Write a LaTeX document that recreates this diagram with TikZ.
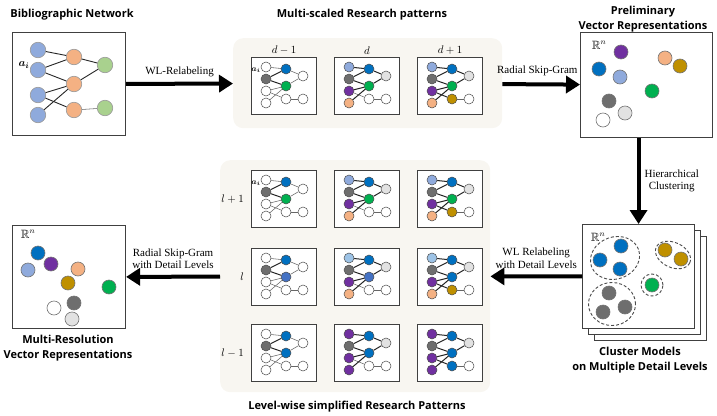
\documentclass[tikz,border=0pt]{standalone}
\usepackage{amssymb}
\usepackage{amsmath}
\usepackage{fontspec}
\usepackage{tikz}
\usetikzlibrary{arrows.meta, positioning, shapes.geometric}
\newfontfamily\headfont{Open Sans}
\newfontfamily\labfont{Liberation Serif}
\definecolor{panelbg}{HTML}{F8F6F1}
\definecolor{nblue}{HTML}{8FAADC}
\definecolor{norange}{HTML}{F4B183}
\definecolor{ngreen}{HTML}{A9D18E}
\definecolor{cblue}{HTML}{0070C0}
\definecolor{cmblue}{HTML}{4472C4}
\definecolor{cpblue}{HTML}{9DC3E6}
\definecolor{clblue}{HTML}{8FAADC}
\definecolor{cgreen}{HTML}{00B050}
\definecolor{cgray}{HTML}{6E6E6E}
\definecolor{clgray}{HTML}{E2E2E2}
\definecolor{cpurple}{HTML}{7030A0}
\definecolor{cgold}{HTML}{BF9000}
\definecolor{corange}{HTML}{F4B183}
\def\patwhite{white}
\newcommand{\patedge}[4]{%
  \def\patca{#3}\def\patcb{#4}%
  \ifx\patca\patwhite \draw[thinedge] (#1) -- (#2);%
  \else\ifx\patcb\patwhite \draw[thinedge] (#1) -- (#2);%
  \else \draw[thickedge] (#1) -- (#2);\fi\fi}
\tikzset{
  title/.style={font=\headfont\bfseries\fontsize{11}{15}\selectfont, align=center},
  lab/.style={font=\labfont\fontsize{11}{12.5}\selectfont, align=center, inner sep=1pt},
  mlab/.style={font=\fontsize{11}{13}\selectfont, inner sep=1pt},
  rlab/.style={font=\fontsize{12}{14}\selectfont, inner sep=1pt},
  ailab/.style={font=\fontsize{8.5}{9}\selectfont, inner sep=0pt},
  bigarrow/.style={line width=4pt, -{Triangle[length=14pt,width=17pt]}},
  boxline/.style={draw=black!75, line width=1.1pt, fill=white, inner sep=0pt},
  panel/.style={fill=panelbg, rounded corners=10pt, inner sep=0pt},
  bdot/.style={circle, minimum size=15.5pt, inner sep=0pt, draw=black!40, line width=0.6pt},
  vdot/.style={circle, minimum size=14pt, inner sep=0pt, draw=black!55, line width=0.6pt},
  sdot/.style={circle, minimum size=10pt, inner sep=0pt, draw=black!70, line width=0.5pt},
  bedge/.style={draw=black!85, line width=0.9pt},
  thinedge/.style={draw=black!60, line width=0.55pt},
  thickedge/.style={draw=black!85, line width=1pt},
  clus/.style={draw=black!70, line width=0.9pt, dash pattern=on 3pt off 2pt, inner sep=0pt},
  pics/rpat/.style n args={9}{code={
    \node[boxline, minimum width=65pt, minimum height=57pt, anchor=north west] (-box) at (0,0) {};
    \node[sdot, fill=#1] (-1) at (15,10) {};
    \node[sdot, fill=#2] (-2) at (15,22) {};
    \node[sdot, fill=#3] (-3) at (15,34) {};
    \node[sdot, fill=#4] (-4) at (15,46) {};
    \node[sdot, fill=#5] (-5) at (35,12) {};
    \node[sdot, fill=#6] (-6) at (35,29) {};
    \node[sdot, fill=#7] (-7) at (35,42) {};
    \node[sdot, fill=#8] (-8) at (52,19) {};
    \node[sdot, fill=#9] (-9) at (52,42) {};
    \patedge{-1}{-5}{#1}{#5}
    \patedge{-2}{-5}{#2}{#5}
    \patedge{-2}{-6}{#2}{#6}
    \patedge{-3}{-6}{#3}{#6}
    \patedge{-3}{-7}{#3}{#7}
    \patedge{-4}{-6}{#4}{#6}
    \patedge{-5}{-8}{#5}{#8}
    \patedge{-6}{-8}{#6}{#8}
    \patedge{-7}{-9}{#7}{#9}
  }}
}

\begin{document}
\begin{tikzpicture}[x=1pt, y=-1pt]
\useasboundingbox (0,0) rectangle (717,415);

% panels behind the patterns
\node[panel, minimum width=269pt, minimum height=90pt, anchor=north west] (ptop) at (233,38) {};
\node[panel, minimum width=270pt, minimum height=232pt, anchor=north west] (pbot) at (220,160) {};

% titles
\node[title] (tbib) at (72,15) {Bibliographic Network};
\node[title] (tms) at (362,15) {Multi-scaled Research patterns};
\node[title] (tpre) at (643,19) {Preliminary\\Vector Representations};
\node[title] (tclu) at (640,360) {Cluster Models\\on Multiple Detail Levels};
\node[title] (tmr) at (68,348) {Multi-Resolution\\Vector Representations};
\node[title] (tlw) at (357,407) {Level-wise simplified Research Patterns};

% bibliographic network
\node[boxline, minimum width=113pt, minimum height=103pt, anchor=north west] (bib) at (12,32) {};
\node[bdot, fill=nblue] (b1) at (38,50) {};
\node[bdot, fill=nblue] (b2) at (38,70) {};
\node[bdot, fill=nblue] (b3) at (38,95) {};
\node[bdot, fill=nblue] (b4) at (38,115) {};
\node[bdot, fill=norange] (o1) at (74,57) {};
\node[bdot, fill=norange] (o2) at (74,84) {};
\node[bdot, fill=norange] (o3) at (74,110) {};
\node[bdot, fill=ngreen] (g1) at (105,65) {};
\node[bdot, fill=ngreen] (g2) at (105,108) {};
\node[mlab] (ai) at (24,65) {$\boldsymbol{a_i}$};
\draw[bedge] (b1) -- (o1);
\draw[bedge] (b2) -- (o1);
\draw[bedge] (b2) -- (o2);
\draw[bedge] (b3) -- (o2);
\draw[bedge] (b3) -- (o3);
\draw[bedge] (b4) -- (o2);
\draw[bedge] (o1) -- (g1);
\draw[bedge] (o2) -- (g1);
\draw[thinedge] (o3) -- (g2);

% multi-scaled patterns
\pic (pd1) at (251,57) {rpat={white}{cgray}{white}{white}{cblue}{cgreen}{white}{white}{white}};
\pic (pd2) at (334,57) {rpat={clblue}{cgray}{cpurple}{corange}{cblue}{cgreen}{white}{clgray}{white}};
\pic (pd3) at (417,57) {rpat={clblue}{cgray}{cpurple}{corange}{cblue}{cgreen}{cgold}{clgray}{white}};
\node[ailab] (aid) at (256,70) {$\boldsymbol{a_i}$};
\node[mlab, above=1pt of pd1-box] (ld1) {$d-1$};
\node[mlab, above=1pt of pd2-box] (ld2) {$d$};
\node[mlab, above=1pt of pd3-box] (ld3) {$d+1$};

% preliminary vectors
\node[boxline, minimum width=132pt, minimum height=105pt, anchor=north west] (prelim) at (580,32) {};
\node[rlab] (rn1) at (599,45) {$\mathbb{R}^n$};
\node[vdot, fill=cpurple] (v1) at (621,52) {};
\node[vdot, fill=cblue] (v2) at (599,69) {};
\node[vdot, fill=clblue] (v3) at (620,77) {};
\node[vdot, fill=corange] (v4) at (665,58) {};
\node[vdot, fill=cgold] (v5) at (680,66) {};
\node[vdot, fill=cgreen] (v6) at (652,91) {};
\node[vdot, fill=cgray] (v7) at (609,101) {};
\node[vdot, fill=clgray] (v8) at (625,113) {};
\node[vdot, fill=white] (v9) at (603,120) {};

% cluster models
\node[boxline, minimum width=112pt, minimum height=104pt, anchor=north west] (clC) at (594,236) {};
\node[boxline, minimum width=112pt, minimum height=104pt, anchor=north west] (clB) at (588,230) {};
\node[boxline, minimum width=112pt, minimum height=104pt, anchor=north west] (clA) at (582,224) {};
\node[rlab] (rn2) at (598,237) {$\mathbb{R}^n$};
\node[clus, ellipse, minimum width=50pt, minimum height=42pt, rotate=20] (k1) at (615,258) {};
\node[clus, ellipse, minimum width=37pt, minimum height=25pt, rotate=-25] (k2) at (673,255) {};
\node[clus, circle, minimum size=22pt] (k3) at (652,285) {};
\node[clus, ellipse, minimum width=47pt, minimum height=43pt] (k4) at (612,304) {};
\node[vdot, fill=cblue] (c1) at (621,246) {};
\node[vdot, fill=cblue] (c2) at (600,260) {};
\node[vdot, fill=cblue] (c3) at (620,269) {};
\node[vdot, fill=cgold] (c4) at (665,250) {};
\node[vdot, fill=cgold] (c5) at (681,259) {};
\node[vdot, fill=cgreen] (c6) at (652,285) {};
\node[vdot, fill=cgray] (c7) at (609,293) {};
\node[vdot, fill=cgray] (c8) at (603,312) {};
\node[vdot, fill=cgray] (c9) at (625,307) {};

% level-wise patterns
\pic (r1a) at (251,170) {rpat={white}{cgray}{white}{white}{cblue}{cgreen}{white}{white}{white}};
\pic (r1b) at (334,170) {rpat={clblue}{cgray}{cpurple}{corange}{cblue}{cgreen}{white}{clgray}{white}};
\pic (r1c) at (417,170) {rpat={clblue}{cgray}{cpurple}{corange}{cblue}{cgreen}{cgold}{clgray}{white}};
\pic (r2a) at (251,248) {rpat={white}{cgray}{white}{white}{cblue}{cmblue}{white}{white}{white}};
\pic (r2b) at (334,248) {rpat={cpblue}{cgray}{cpurple}{corange}{cblue}{cmblue}{white}{clgray}{white}};
\pic (r2c) at (417,248) {rpat={cpblue}{cgray}{cpurple}{corange}{cblue}{cblue}{cgold}{clgray}{white}};
\pic (r3a) at (251,324) {rpat={white}{cgray}{white}{white}{cblue}{cblue}{white}{white}{white}};
\pic (r3b) at (334,324) {rpat={cpurple}{cgray}{cpurple}{cpurple}{cblue}{cblue}{white}{clgray}{white}};
\pic (r3c) at (417,324) {rpat={cpurple}{cgray}{cpurple}{cpurple}{cblue}{cblue}{cblue}{clgray}{white}};
\node[ailab] (ail) at (256,183) {$\boldsymbol{a_i}$};
\node[mlab, left=6pt of r1a-box] (lr1) {$l+1$};
\node[mlab, left=6pt of r2a-box] (lr2) {$l$};
\node[mlab, left=6pt of r3a-box] (lr3) {$l-1$};

% multi-resolution vectors
\node[boxline, minimum width=113pt, minimum height=103pt, anchor=north west] (multi) at (12,225) {};
\node[rlab] (rn3) at (28,234) {$\mathbb{R}^n$};
\node[vdot, fill=cblue] (m1) at (38,253) {};
\node[vdot, fill=clblue] (m2) at (28,270) {};
\node[vdot, fill=cpurple] (m3) at (51,264) {};
\node[vdot, fill=corange] (m4) at (78,269) {};
\node[vdot, fill=cgold] (m5) at (68,283) {};
\node[vdot, fill=cgreen] (m6) at (109,287) {};
\node[vdot, fill=cgray] (m7) at (74,303) {};
\node[vdot, fill=white] (m8) at (54,308) {};
\node[vdot, fill=clgray] (m9) at (72,319) {};

% process arrows
\draw
(bib) edge[bigarrow] node[lab, above=4pt] {WL-Relabeling} (ptop)
(ptop) edge[bigarrow] node[lab, above=5pt, pos=0.45] {Radial Skip-Gram} (prelim)
(prelim.south -| clA.north) edge[bigarrow] node[lab, right=3pt] {Hierarchical\\Clustering} (clA.north)
(clA) edge[bigarrow] node[lab, above=5pt] {WL Relabeling\\with Detail Levels} (pbot)
(pbot) edge[bigarrow] node[lab, above=5pt] {Radial Skip-Gram\\with Detail Levels} (multi);
\end{tikzpicture}
\end{document}
